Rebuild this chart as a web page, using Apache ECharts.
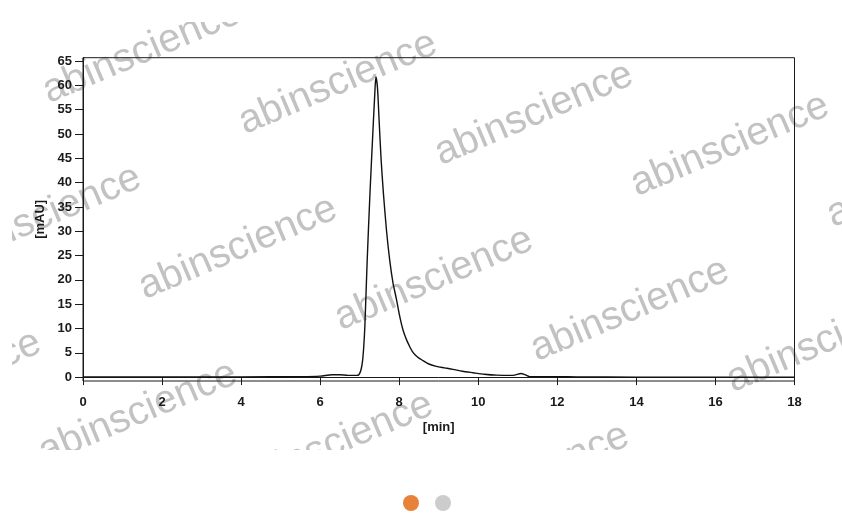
<!DOCTYPE html>
<html>
<head>
    <meta charset="utf-8">
    <script src="https://cdn.jsdelivr.net/npm/echarts@6/dist/echarts.min.js"></script>
    <style>
        html, body { margin: 0; padding: 0; background: #fff; }
        #chart { width: 842px; height: 532px; }
    </style>
</head>
<body>
    <div id="chart"></div>
    <script>
        // retention time [min] and absorbance [mAU]
        var times = [0, 2, 4, 5.5, 6.0, 6.3, 6.5, 6.7, 6.92, 6.98, 7.03, 7.07, 7.1, 7.13, 7.19, 7.26,
            7.34, 7.38, 7.41, 7.45, 7.49, 7.54, 7.6, 7.68, 7.76, 7.84, 7.93, 8.0, 8.06, 8.1, 8.15,
            8.2, 8.27, 8.33, 8.4, 8.5, 8.6, 8.75, 8.94, 9.15, 9.36, 9.6, 9.87, 10.15, 10.46, 10.88, 11.0,
            11.08, 11.18, 11.3, 12, 12.5, 14, 18];
        var mAU = [0.05, 0.05, 0.05, 0.1, 0.2, 0.5, 0.5, 0.35, 0.35, 0.5, 1.4, 3.2, 6, 10.3, 24.1, 37.8,
            51.5, 58, 61.8, 59.5, 53, 45, 37.8, 30, 24, 19.5, 16, 13, 10.8, 9.6, 8.4,
            7.4, 6.2, 5.3, 4.6, 3.9, 3.4, 2.7, 2.2, 1.9, 1.6, 1.2, 0.9, 0.6, 0.4, 0.35, 0.6,
            0.75, 0.5, 0.1, 0.1, 0.05, 0, 0];
        var yTicks = [0, 5, 10, 15, 20, 25, 30, 35, 40, 45, 50, 55, 60, 65];

        var points = times.map(function (t, i) { return [t, mAU[i]]; });

        // watermark layer, kept under the axes and the trace
        var marks = [];
        for (var r = 0; r < 3; r++) {
            for (var k = -1; k < 6; k++) {
                marks.push({
                    type: 'text',
                    x: 142 - 100 * r + 196 * k,
                    y: 52 + 165 * r + 31 * k,
                    rotation: 0.4,
                    z: -10,
                    silent: true,
                    style: {
                        text: 'abinscience',
                        font: '40px "Liberation Sans", Arial, sans-serif',
                        fill: '#c2c2c2',
                        align: 'center',
                        verticalAlign: 'middle'
                    }
                });
            }
        }
        // masks that crop the watermark band
        marks.push({ type: 'rect', z: -5, silent: true, shape: { x: 0, y: 0, width: 842, height: 22 }, style: { fill: '#fff' } });
        marks.push({ type: 'rect', z: -5, silent: true, shape: { x: 0, y: 450, width: 842, height: 82 }, style: { fill: '#fff' } });
        marks.push({ type: 'rect', z: -5, silent: true, shape: { x: 0, y: 0, width: 12, height: 532 }, style: { fill: '#fff' } });
        // slider dots
        marks.push({ type: 'circle', z: 70, shape: { cx: 411, cy: 503, r: 8 }, style: { fill: '#e8823a' } });
        marks.push({ type: 'circle', z: 70, shape: { cx: 443, cy: 503, r: 8 }, style: { fill: '#cccccc' } });

        var labelFont = {
            color: '#1a1a1a',
            fontSize: 13,
            fontWeight: 'bold',
            fontFamily: '"Liberation Sans", Arial, sans-serif'
        };

        var chart = echarts.init(document.getElementById('chart'));
        chart.setOption({
            animation: false,
            backgroundColor: '#fff',
            grid: {
                left: 83, right: 47.5, top: 57.7, bottom: 151,
                show: true, borderColor: '#1a1a1a', borderWidth: 1
            },
            xAxis: {
                type: 'value',
                min: 0, max: 18, interval: 2,
                name: '[min]',
                nameLocation: 'middle',
                nameGap: 40,
                nameTextStyle: labelFont,
                axisLine: { show: true, lineStyle: { color: '#1a1a1a', width: 1 } },
                axisTick: { show: true, length: 8, lineStyle: { color: '#1a1a1a' } },
                axisLabel: Object.assign({ margin: 15 }, labelFont),
                splitLine: { show: false }
            },
            yAxis: {
                type: 'value',
                min: -0.8, max: 65.7,
                name: '[mAU]',
                nameLocation: 'middle',
                nameGap: 32,
                nameRotate: 90,
                nameTextStyle: labelFont,
                axisLine: { show: true, lineStyle: { color: '#1a1a1a', width: 1 } },
                axisTick: { show: true, length: 8, customValues: yTicks, lineStyle: { color: '#1a1a1a' } },
                axisLabel: Object.assign({ margin: 11, customValues: yTicks }, labelFont),
                splitLine: { show: false }
            },
            series: [{
                type: 'line',
                data: points,
                smooth: 0.25,
                showSymbol: false,
                lineStyle: { color: '#111', width: 1.4 }
            }],
            graphic: marks
        });
    </script>
</body>
</html>
